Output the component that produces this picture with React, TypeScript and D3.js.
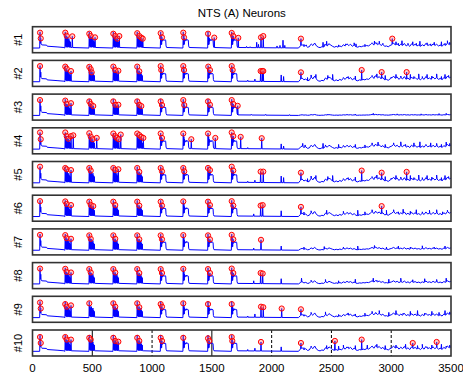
import React from "react";
import * as d3 from "d3";

// ---- Chart data ----------------------------------------------------------
const chartTitle = "NTS (A) Neurons";
const panelLabels = ["#1", "#2", "#3", "#4", "#5", "#6", "#7", "#8", "#9", "#10"];
const xTicks = [0, 500, 1000, 1500, 2000, 2500, 3000, 3500];
const gridSolid = [500, 1500];
const gridDashed = [1000, 2000, 2500, 3000];

// stimulus onsets (ms)
const stimTimes = [63, 274, 475, 676, 876, 1072, 1261, 1468, 1666];

// resting level of the normalised trace
const restLevel = 0.18;

// response shapes: [offset ms, level]
const onsetShape: [number, number][] = [
  [-3, 0.18], [0, 0.8], [3, 0.36], [6, 0.55], [9, 0.33], [15, 0.3], [55, 0.29],
  [60, 0.25], [150, 0.22], [200, 0.2],
];
const earlyBurst: [number, number][] = [
  [-3, 0.18], [0, 0.8], [3, 0.24], [6, 0.62], [9, 0.22], [12, 0.56], [15, 0.2],
  [18, 0.6], [21, 0.22], [24, 0.5], [27, 0.22], [30, 0.55], [33, 0.2], [36, 0.46],
  [39, 0.22], [42, 0.42], [45, 0.2], [55, 0.2],
];
const lateBurst: [number, number][] = [
  [-3, 0.18], [0, 0.8], [3, 0.3], [5, 0.66], [8, 0.32], [10, 0.56], [13, 0.44],
  [16, 0.5], [20, 0.47], [25, 0.52], [30, 0.47], [35, 0.5], [42, 0.48], [45, 0.26],
  [50, 0.2],
];

// ongoing background fluctuation after the train, sampled every 15 ms from 2240 ms
// (height above rest)
const noiseStart = 2240;
const noiseStep = 15;
const lateNoise = [
  0.05, 0.08, 0.04, 0.06, 0.02, 0.03, 0.1, 0.06, 0.12, 0.05, 0.02, 0.01, 0.03, 0.02, 0.08,
  0.05, 0.1, 0.07, 0.04, 0.02, 0.04, 0.02, 0.05, 0.03, 0.08, 0.05, 0.1, 0.06, 0.09, 0.04,
  0.07, 0.03, 0.02, 0.04, 0.03, 0.05, 0.04, 0.06, 0.05, 0.08, 0.12, 0.07, 0.13, 0.08, 0.11,
  0.06, 0.09, 0.04, 0.05, 0.03, 0.06, 0.08, 0.12, 0.07, 0.1, 0.05, 0.09, 0.06, 0.11, 0.05,
  0.08, 0.04, 0.1, 0.06, 0.09, 0.05, 0.07, 0.04, 0.08, 0.05, 0.11, 0.06, 0.08, 0.05, 0.1,
  0.06, 0.09, 0.05, 0.07, 0.04, 0.09, 0.06, 0.12, 0.08, 0.1,
];
// how strongly each neuron shows that background activity
const noiseGain = [1.6, 1.8, 0.3, 1.5, 1.8, 1.6, 0.9, 1.0, 1.5, 1.7];

// detected spikes (red markers): [time ms, level]
const marks1: [number, number][] = [
  [63, 0.77], [69, 0.55], [274, 0.77], [286, 0.65], [333, 0.63], [475, 0.73], [487, 0.64],
  [523, 0.59], [676, 0.73], [692, 0.64], [709, 0.54], [726, 0.64], [876, 0.75], [893, 0.64],
  [910, 0.58], [922, 0.54], [1072, 0.75], [1083, 0.59], [1261, 0.77], [1267, 0.59],
  [1468, 0.73], [1520, 0.58], [1666, 0.76], [1679, 0.64], [1721, 0.57], [1911, 0.59],
  [1930, 0.64], [2245, 0.54], [3009, 0.54],
];
const marks2: [number, number][] = [
  [63, 0.78], [274, 0.76], [286, 0.68], [322, 0.59], [475, 0.75], [487, 0.66], [495, 0.54],
  [676, 0.76], [692, 0.63], [718, 0.6], [876, 0.76], [893, 0.58], [1072, 0.78], [1077, 0.63],
  [1261, 0.78], [1267, 0.63], [1470, 0.76], [1484, 0.63], [1666, 0.78], [1674, 0.63],
  [1908, 0.59], [1922, 0.59], [1930, 0.59], [2245, 0.54], [2753, 0.63], [2920, 0.55],
  [3129, 0.55],
];
const marks3: [number, number][] = [
  [63, 0.77], [274, 0.75], [286, 0.62], [322, 0.65], [475, 0.72], [487, 0.62], [508, 0.54],
  [676, 0.72], [692, 0.59], [718, 0.59], [876, 0.72], [893, 0.59], [910, 0.54], [1072, 0.72],
  [1083, 0.58], [1261, 0.77], [1269, 0.58], [1468, 0.72], [1484, 0.59], [1666, 0.77],
  [1679, 0.62], [1716, 0.55],
];
const marks4: [number, number][] = [
  [63, 0.82], [69, 0.56], [274, 0.82], [286, 0.68], [299, 0.58], [322, 0.68], [341, 0.71],
  [475, 0.79], [487, 0.66], [503, 0.56], [537, 0.61], [676, 0.78], [692, 0.68], [704, 0.61],
  [721, 0.56], [738, 0.74], [876, 0.78], [893, 0.72], [910, 0.65], [927, 0.61], [1072, 0.78],
  [1083, 0.61], [1261, 0.78], [1328, 0.56], [1468, 0.78], [1529, 0.61], [1666, 0.82],
  [1679, 0.68], [1741, 0.65], [1917, 0.6],
];
const marks5: [number, number][] = [
  [63, 0.8], [274, 0.75], [286, 0.7], [322, 0.67], [475, 0.75], [487, 0.65], [676, 0.75],
  [692, 0.67], [718, 0.7], [876, 0.75], [893, 0.6], [1072, 0.75], [1083, 0.62], [1261, 0.75],
  [1269, 0.62], [1468, 0.75], [1484, 0.67], [1666, 0.8], [1679, 0.65], [1908, 0.61],
  [1930, 0.61], [2245, 0.57], [2753, 0.65], [2920, 0.57], [3129, 0.6],
];
const marks6: [number, number][] = [
  [63, 0.77], [274, 0.76], [286, 0.66], [322, 0.62], [475, 0.75], [487, 0.63], [508, 0.58],
  [676, 0.75], [692, 0.62], [876, 0.75], [893, 0.6], [1072, 0.75], [1083, 0.6], [1261, 0.76],
  [1468, 0.75], [1484, 0.62], [1666, 0.77], [1679, 0.6], [1908, 0.6], [1925, 0.62],
  [2245, 0.55], [2920, 0.58],
];
const marks7: [number, number][] = [
  [63, 0.77], [274, 0.76], [286, 0.64], [322, 0.62], [475, 0.75], [487, 0.62], [676, 0.75],
  [692, 0.62], [876, 0.75], [893, 0.6], [1072, 0.75], [1083, 0.6], [1261, 0.76], [1468, 0.75],
  [1484, 0.6], [1666, 0.77], [1679, 0.6], [1911, 0.58],
];
const marks8: [number, number][] = [
  [63, 0.77], [274, 0.76], [286, 0.64], [322, 0.62], [475, 0.75], [487, 0.62], [676, 0.75],
  [692, 0.62], [876, 0.75], [893, 0.6], [1072, 0.75], [1083, 0.6], [1261, 0.76], [1468, 0.75],
  [1484, 0.6], [1666, 0.77], [1679, 0.6], [1908, 0.6], [1925, 0.58],
];
const marks9: [number, number][] = [
  [63, 0.76], [69, 0.53], [274, 0.7], [286, 0.6], [322, 0.65], [475, 0.73], [676, 0.73],
  [692, 0.6], [876, 0.73], [893, 0.58], [1072, 0.7], [1083, 0.6], [1261, 0.73], [1468, 0.7],
  [1666, 0.7], [1911, 0.6], [1930, 0.58], [2084, 0.53], [2245, 0.5],
];
const marks10: [number, number][] = [
  [63, 0.73], [69, 0.5], [274, 0.73], [286, 0.63], [322, 0.63], [475, 0.7], [487, 0.63],
  [676, 0.7], [692, 0.58], [718, 0.55], [876, 0.7], [893, 0.58], [1072, 0.7], [1083, 0.58],
  [1261, 0.7], [1468, 0.68], [1479, 0.58], [1666, 0.73], [1671, 0.58], [1911, 0.54],
  [2245, 0.5], [2529, 0.58], [2753, 0.63], [3180, 0.5], [3380, 0.54],
];

// unmarked spikes after the stimulus train: [time ms, level]
const activity1: [number, number][] = [
  [1790, 0.24], [1820, 0.23], [1875, 0.4], [1890, 0.32], [2045, 0.26], [2070, 0.28], [2095, 0.48],
  [2110, 0.28], [2270, 0.32], [2290, 0.3], [2330, 0.34], [2430, 0.4], [2445, 0.32], [2460, 0.44],
  [2475, 0.34], [2560, 0.3], [2620, 0.34], [2650, 0.3], [2690, 0.38], [2705, 0.34], [2780, 0.32],
  [2840, 0.38], [2860, 0.45], [2880, 0.38], [2900, 0.44], [2930, 0.36], [3040, 0.42], [3060, 0.36],
  [3090, 0.46], [3140, 0.36], [3180, 0.42], [3210, 0.36], [3240, 0.44], [3300, 0.38], [3330, 0.34],
  [3360, 0.4], [3420, 0.42], [3450, 0.36], [3470, 0.46], [3490, 0.4],
];
const activity2: [number, number][] = [
  [1800, 0.24], [1860, 0.28], [2080, 0.44], [2100, 0.38], [2300, 0.34], [2330, 0.44], [2350, 0.36],
  [2370, 0.46], [2470, 0.42], [2490, 0.34], [2510, 0.46], [2600, 0.34], [2640, 0.38], [2700, 0.4],
  [2840, 0.42], [2860, 0.38], [2880, 0.48], [2950, 0.42], [3000, 0.36], [3040, 0.46], [3080, 0.4],
  [3160, 0.46], [3190, 0.38], [3230, 0.48], [3260, 0.38], [3300, 0.46], [3340, 0.4], [3380, 0.48],
  [3420, 0.38], [3450, 0.46], [3480, 0.42],
];
const activity3: [number, number][] = [
  [1830, 0.22], [1950, 0.22], [2150, 0.21], [2470, 0.23], [2700, 0.23], [2850, 0.26], [3050, 0.24],
  [3250, 0.24], [3400, 0.25], [3460, 0.26],
];
const activity4: [number, number][] = [
  [1800, 0.24], [2080, 0.38], [2100, 0.3], [2260, 0.4], [2280, 0.34], [2330, 0.32], [2430, 0.4],
  [2450, 0.34], [2560, 0.36], [2600, 0.32], [2700, 0.36], [2780, 0.34], [2840, 0.42], [2870, 0.36],
  [2890, 0.45], [2950, 0.36], [3020, 0.42], [3080, 0.46], [3120, 0.36], [3190, 0.42], [3240, 0.46],
  [3290, 0.36], [3330, 0.42], [3380, 0.4], [3420, 0.36], [3460, 0.45], [3490, 0.4],
];
const activity5: [number, number][] = [
  [1800, 0.24], [1860, 0.28], [2080, 0.44], [2100, 0.38], [2300, 0.34], [2330, 0.44], [2350, 0.36],
  [2370, 0.46], [2470, 0.42], [2490, 0.34], [2510, 0.46], [2600, 0.34], [2640, 0.38], [2700, 0.4],
  [2840, 0.42], [2860, 0.38], [2880, 0.48], [2950, 0.42], [3000, 0.36], [3040, 0.46], [3080, 0.4],
  [3160, 0.46], [3190, 0.38], [3230, 0.48], [3260, 0.38], [3300, 0.46], [3340, 0.4], [3380, 0.48],
  [3420, 0.38], [3450, 0.46], [3480, 0.42],
];
const activity6: [number, number][] = [
  [1850, 0.28], [2080, 0.4], [2270, 0.35], [2330, 0.4], [2350, 0.34], [2460, 0.42], [2480, 0.34],
  [2600, 0.38], [2650, 0.32], [2720, 0.42], [2780, 0.36], [2840, 0.44], [2870, 0.36], [2960, 0.42],
  [3020, 0.44], [3060, 0.36], [3100, 0.46], [3160, 0.38], [3210, 0.44], [3260, 0.36], [3320, 0.42],
  [3380, 0.44], [3430, 0.36], [3470, 0.42],
];
const activity7: [number, number][] = [
  [1850, 0.26], [2080, 0.34], [2270, 0.3], [2440, 0.32], [2600, 0.3], [2720, 0.34], [2860, 0.36],
  [2960, 0.3], [3060, 0.34], [3160, 0.3], [3260, 0.35], [3360, 0.3], [3450, 0.34],
];
const activity8: [number, number][] = [
  [1850, 0.3], [2080, 0.38], [2250, 0.4], [2330, 0.32], [2450, 0.35], [2560, 0.3], [2700, 0.36],
  [2850, 0.4], [2880, 0.32], [2980, 0.36], [3080, 0.4], [3180, 0.34], [3280, 0.38], [3380, 0.35],
  [3460, 0.4],
];
const activity9: [number, number][] = [
  [1800, 0.24], [1860, 0.32], [2270, 0.3], [2330, 0.38], [2350, 0.3], [2450, 0.4], [2480, 0.32],
  [2560, 0.3], [2640, 0.36], [2700, 0.32], [2780, 0.35], [2840, 0.42], [2870, 0.35], [2900, 0.45],
  [2980, 0.38], [3040, 0.45], [3100, 0.35], [3160, 0.42], [3220, 0.45], [3280, 0.35], [3340, 0.42],
  [3400, 0.38], [3450, 0.45], [3490, 0.4],
];
const activity10: [number, number][] = [
  [1800, 0.25], [1860, 0.3], [2080, 0.35], [2270, 0.32], [2330, 0.38], [2460, 0.4], [2490, 0.32],
  [2560, 0.38], [2600, 0.42], [2640, 0.35], [2700, 0.4], [2800, 0.42], [2840, 0.35], [2880, 0.45],
  [2950, 0.4], [3040, 0.42], [3080, 0.35], [3120, 0.45], [3220, 0.4], [3260, 0.45], [3300, 0.35],
  [3340, 0.42], [3420, 0.45], [3460, 0.38], [3490, 0.42],
];

const marksByPanel = [marks1, marks2, marks3, marks4, marks5, marks6, marks7, marks8, marks9, marks10];
const activityByPanel = [
  activity1, activity2, activity3, activity4, activity5,
  activity6, activity7, activity8, activity9, activity10,
];

// ---- Layout ---------------------------------------------------------------
const W = 463;
const H = 378;
const plotLeft = 32.5;
const plotRight = 451;
const firstTop = 26.7;
const panelStep = 33.7;
const panelH = 26;
const spikeHalfWidth = 3;
const font = "Arial, 'Liberation Sans', Helvetica, sans-serif";

type Pt = [number, number];

function buildTrace(panel: number): Pt[] {
  // slow components: rest, evoked responses, background fluctuation
  const base: Pt[] = [[0, restLevel], [2225, restLevel]];
  onsetShape.forEach(([dt, v]) => base.push([stimTimes[0] + dt, v]));
  stimTimes.slice(1, 5).forEach((s) => earlyBurst.forEach(([dt, v]) => base.push([s + dt, v])));
  stimTimes.slice(5).forEach((s) => lateBurst.forEach(([dt, v]) => base.push([s + dt, v])));
  lateNoise.forEach((n, k) =>
    base.push([noiseStart + k * noiseStep, restLevel + n * noiseGain[panel]])
  );
  base.sort((a, b) => a[0] - b[0]);

  const bisect = d3.bisector((p: Pt) => p[0]).left;
  const levelAt = (t: number) => {
    const j = Math.min(Math.max(bisect(base, t), 1), base.length - 1);
    const a = base[j - 1];
    const b = base[j];
    return b[0] === a[0] ? a[1] : a[1] + ((b[1] - a[1]) * (t - a[0])) / (b[0] - a[0]);
  };

  // fast components: individual spikes
  const pts: Pt[] = [...base];
  [...marksByPanel[panel], ...activityByPanel[panel]].forEach(([t, v]) => {
    pts.push(
      [t - spikeHalfWidth, levelAt(t - spikeHalfWidth)],
      [t, v],
      [t + spikeHalfWidth, levelAt(t + spikeHalfWidth)]
    );
  });
  pts.sort((a, b) => a[0] - b[0]);
  return pts.filter((p) => p[0] >= 0 && p[0] <= 3500);
}

export default function App() {
  const x = d3.scaleLinear().domain([0, 3500]).range([plotLeft, plotRight]);
  const last = panelLabels.length - 1;

  return (
    <svg
      width={W}
      height={H}
      viewBox={`0 0 ${W} ${H}`}
      style={{ position: "absolute", left: 0, top: 0, background: "#fff" }}
    >
      <text
        x={(plotLeft + plotRight) / 2}
        y={16.5}
        textAnchor="middle"
        fontFamily={font}
        fontSize={11.5}
        fill="#000"
      >
        {chartTitle}
      </text>
      <defs>
        {panelLabels.map((_, i) => (
          <clipPath id={`clip${i}`} key={i}>
            <rect x={plotLeft} y={firstTop + i * panelStep} width={plotRight - plotLeft} height={panelH} />
          </clipPath>
        ))}
      </defs>
      {panelLabels.map((label, i) => {
        const top = firstTop + i * panelStep;
        const y = d3.scaleLinear().domain([0, 1]).range([top + panelH, top]);
        const trace = buildTrace(i);
        const line = d3
          .line<Pt>()
          .x((d) => x(d[0]))
          .y((d) => y(d[1]));
        return (
          <g key={label}>
            <rect x={plotLeft} y={top} width={plotRight - plotLeft} height={panelH} fill="#fff" />
            {i === last && (
              <g>
                {gridSolid.map((t) => (
                  <line key={t} x1={x(t)} x2={x(t)} y1={top} y2={top + panelH} stroke="#000" strokeWidth={1} />
                ))}
                {gridDashed.map((t) => (
                  <line
                    key={t}
                    x1={x(t)}
                    x2={x(t)}
                    y1={top}
                    y2={top + panelH}
                    stroke="#000"
                    strokeWidth={1}
                    strokeDasharray="3,2"
                  />
                ))}
              </g>
            )}
            <g clipPath={`url(#clip${i})`}>
              <path d={line(trace) ?? ""} fill="none" stroke="#0000ff" strokeWidth={1} strokeLinejoin="round" />
              {marksByPanel[i].map(([t, v], k) => (
                <circle
                  key={k}
                  cx={x(t)}
                  cy={y(v)}
                  r={2.6}
                  fill="rgba(255,110,110,0.35)"
                  stroke="#ff0000"
                  strokeWidth={1}
                />
              ))}
            </g>
            <rect
              x={plotLeft}
              y={top}
              width={plotRight - plotLeft}
              height={panelH}
              fill="none"
              stroke="#333"
              strokeWidth={1.6}
            />
            <text
              transform={`translate(22,${top + panelH / 2}) rotate(-90)`}
              textAnchor="middle"
              fontFamily={font}
              fontSize={11}
              fill="#000"
            >
              {label}
            </text>
          </g>
        );
      })}
      {xTicks.map((t) => (
        <text
          key={t}
          x={x(t)}
          y={371.5}
          textAnchor="middle"
          fontFamily={font}
          fontSize={11.5}
          fill="#000"
        >
          {t}
        </text>
      ))}
    </svg>
  );
}
